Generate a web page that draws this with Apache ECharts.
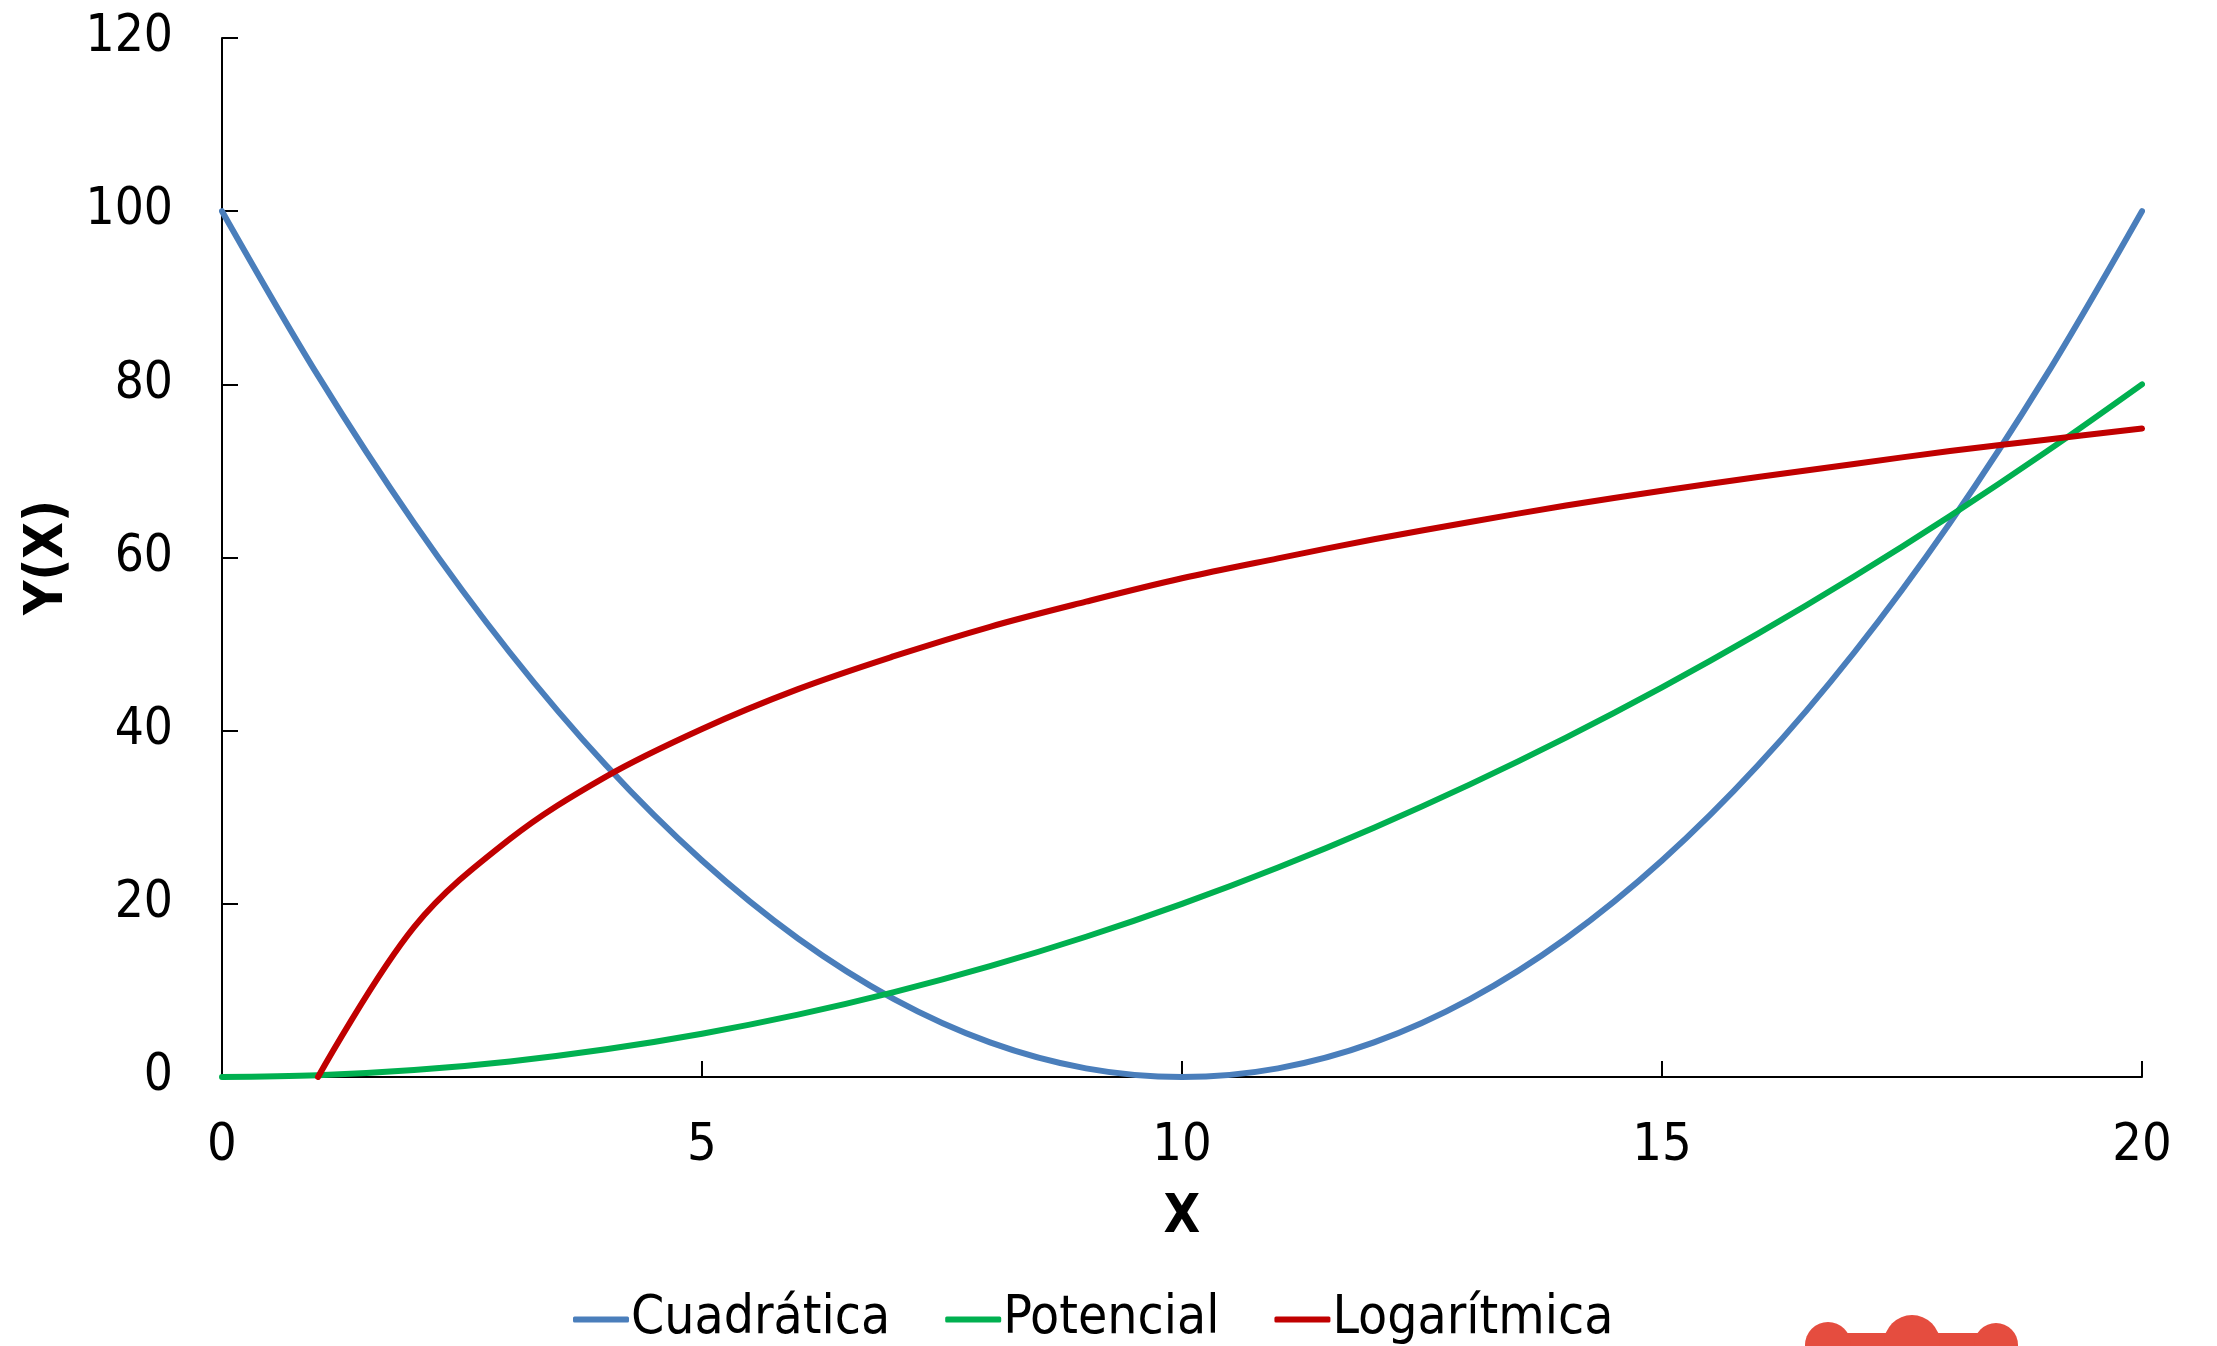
<!DOCTYPE html>
<html>
<head>
<meta charset="utf-8">
<style>
  html, body { margin: 0; padding: 0; background: #ffffff; }
  #chart { width: 2217px; height: 1346px; }
</style>
<script src="https://cdn.jsdelivr.net/npm/echarts@6/dist/echarts.min.js"></script>
</head>
<body>
<div id="chart"></div>
<script>
// X positions shared by the three curves
const xValues = [0, 1, 2, 3, 4, 5, 6, 7, 8, 9, 10, 11, 12, 13, 14, 15, 16, 17, 18, 19, 20];

// Cuadrática
const cuadratica = [100, 81, 64, 49, 36, 25, 16, 9, 4, 1, 0, 1, 4, 9, 16, 25, 36, 49, 64, 81, 100];

// Potencial
const potencial = [0, 0.2, 0.8, 1.8, 3.2, 5, 7.2, 9.8, 12.8, 16.2, 20, 24.2, 28.8, 33.8, 39.2, 45, 51.2, 57.8, 64.8, 72.2, 80];

// Logarítmica (starts at x = 1)
const logX = [1, 2, 3, 4, 5, 6, 7, 8, 9, 10, 11, 12, 13, 14, 15, 16, 17, 18, 19, 20];
const logaritmica = [0, 17.3, 27.5, 34.7, 40.2, 44.8, 48.6, 52, 54.9, 57.6, 59.9, 62.1, 64.1, 66, 67.7, 69.3, 70.8, 72.3, 73.6, 74.9];

const seriesNames = ['Cuadrática', 'Potencial', 'Logarítmica'];
const seriesColors = ['#4a7ebb', '#00b050', '#c00000'];

const yTicks = { min: 0, max: 120, interval: 20 };
const xTicks = { min: 0, max: 20, interval: 5 };

const FONT = '"DejaVu Sans Condensed", "Liberation Sans", sans-serif';

function pairs(xs, ys) {
  return xs.map((x, i) => [x, ys[i]]);
}

function lineSeries(name, color, data) {
  return {
    name: name,
    type: 'line',
    data: data,
    smooth: 0.35,
    showSymbol: false,
    symbol: 'none',
    lineStyle: { color: color, width: 6, cap: 'round', join: 'round' },
    itemStyle: { color: color },
    emphasis: { disabled: true },
    animation: false
  };
}

const chart = echarts.init(document.getElementById('chart'), null, { renderer: 'canvas' });

chart.setOption({
  backgroundColor: '#ffffff',
  animation: false,
  grid: { left: 222, right: 75, top: 38, bottom: 269, containLabel: false },
  xAxis: {
    type: 'value',
    min: xTicks.min,
    max: xTicks.max,
    interval: xTicks.interval,
    name: 'X',
    nameLocation: 'middle',
    nameGap: 115,
    nameTextStyle: { fontFamily: FONT, fontSize: 53, fontWeight: 'bold', color: '#000000' },
    axisLine: { show: true, onZero: false, lineStyle: { color: '#000000', width: 2 } },
    axisTick: { show: true, inside: true, length: 16, lineStyle: { color: '#000000', width: 2 } },
    axisLabel: { margin: 43, fontFamily: FONT, fontSize: 52, color: '#000000' },
    splitLine: { show: false }
  },
  yAxis: {
    type: 'value',
    min: yTicks.min,
    max: yTicks.max,
    interval: yTicks.interval,
    name: 'Y(X)',
    nameLocation: 'middle',
    nameGap: 115,
    nameRotate: 90,
    nameTextStyle: { fontFamily: FONT, fontSize: 53, fontWeight: 'bold', color: '#000000' },
    axisLine: { show: true, onZero: false, lineStyle: { color: '#000000', width: 2 } },
    axisTick: { show: true, inside: true, length: 16, lineStyle: { color: '#000000', width: 2 } },
    axisLabel: { margin: 49, fontFamily: FONT, fontSize: 51, color: '#000000' },
    splitLine: { show: false }
  },
  legend: {
    data: seriesNames,
    left: 568,
    top: 1288,
    orient: 'horizontal',
    icon: 'roundRect',
    itemWidth: 56,
    itemHeight: 6,
    itemGap: 55,
    textStyle: { fontFamily: FONT, fontSize: 53, color: '#000000', padding: [0, 0, 0, -3] },
    selectedMode: false
  },
  series: [
    lineSeries(seriesNames[0], seriesColors[0], pairs(xValues, cuadratica)),
    lineSeries(seriesNames[1], seriesColors[1], pairs(xValues, potencial)),
    lineSeries(seriesNames[2], seriesColors[2], pairs(logX, logaritmica))
  ],
  graphic: [
    {
      type: 'group',
      left: 1805,
      top: 1315,
      silent: true,
      children: [
        { type: 'rect', shape: { x: 0, y: 18, width: 213, height: 40, r: 20 }, style: { fill: '#e54d3f' } },
        { type: 'circle', shape: { cx: 23, cy: 30, r: 23 }, style: { fill: '#e54d3f' } },
        { type: 'circle', shape: { cx: 107, cy: 28, r: 28 }, style: { fill: '#e54d3f' } },
        { type: 'circle', shape: { cx: 191, cy: 30, r: 22 }, style: { fill: '#e54d3f' } }
      ]
    }
  ]
});
</script>
</body>
</html>
